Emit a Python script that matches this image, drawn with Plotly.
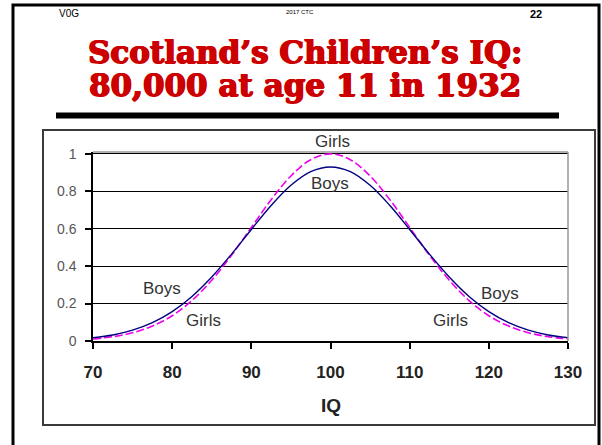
import plotly.graph_objects as go

# ---- data ----
iq = [70, 72.5, 75, 77.5, 80, 82.5, 85, 87.5, 90, 92.5, 95, 97.5, 100,
      102.5, 105, 107.5, 110, 112.5, 115, 117.5, 120, 122.5, 125, 127.5, 130]
boys = [0.018, 0.032, 0.058, 0.098, 0.157, 0.238, 0.342, 0.464, 0.596, 0.724, 0.832, 0.905, 0.93,
        0.905, 0.832, 0.724, 0.596, 0.464, 0.342, 0.238, 0.157, 0.098, 0.058, 0.032, 0.018]
girls = [0.011, 0.023, 0.044, 0.080, 0.135, 0.216, 0.325, 0.458, 0.607, 0.755, 0.882, 0.969, 1.0,
         0.969, 0.882, 0.755, 0.607, 0.458, 0.325, 0.216, 0.135, 0.080, 0.044, 0.023, 0.011]

x_ticks = [70, 80, 90, 100, 110, 120, 130]
y_ticks = [0, 0.2, 0.4, 0.6, 0.8, 1]
y_tick_text = ["0", "0.2", "0.4", "0.6", "0.8", "1"]

title_line1 = "Scotland’s Children’s IQ:"
title_line2 = "80,000 at age 11 in 1932"
x_title = "IQ"

# curve labels: (text, IQ, value)
curve_labels = [
    ("Girls", 100.3, 1.064),
    ("Boys", 99.9, 0.84),
    ("Boys", 78.7, 0.283),
    ("Girls", 83.9, 0.112),
    ("Boys", 121.4, 0.252),
    ("Girls", 115.2, 0.108),
]

# ---- layout geometry ----
W, H = 602, 445
ML, MR, MT, MB = 93, 34, 152, 104
PW = W - ML - MR
PH = H - MT - MB
Y_TOP = 1.01


def xp(px):
    return (px - ML) / PW


def yp(py):
    return (H - MB - py) / PH


SANS = "Liberation Sans, Arial, sans-serif"
RED = "#CC0000"

fig = go.Figure()
fig.add_trace(go.Scatter(x=iq, y=girls, mode="lines", line_shape="spline",
                         line=dict(color="#EE00EE", width=1.6, dash="8px,3px"),
                         showlegend=False, hoverinfo="skip"))
fig.add_trace(go.Scatter(x=iq, y=boys, mode="lines", line_shape="spline",
                         line=dict(color="#000080", width=1.4),
                         showlegend=False, hoverinfo="skip"))

fig.update_layout(
    width=W, height=H,
    margin=dict(l=ML, r=MR, t=MT, b=MB, pad=0),
    paper_bgcolor="white", plot_bgcolor="white",
    xaxis=dict(range=[70, 130], tickvals=x_ticks, showgrid=False, zeroline=False,
               showline=True, linecolor="black", linewidth=1.5,
               ticks="outside", ticklen=6, tickwidth=1.5, tickcolor="black",
               ticklabelstandoff=9,
               tickfont=dict(family=SANS, size=17, color="#222222", weight="bold")),
    yaxis=dict(range=[0, Y_TOP], tickvals=y_ticks, ticktext=y_tick_text,
               showgrid=True, gridcolor="black", gridwidth=1.2, zeroline=False,
               showline=True, linecolor="black", linewidth=1.5,
               ticks="outside", ticklen=6, tickwidth=1.5, tickcolor="black",
               ticklabelstandoff=6,
               tickfont=dict(family=SANS, size=14, color="#555555")),
)

shapes = [
    # plot area top & right border (gray)
    dict(type="line", xref="paper", yref="paper", x0=0, x1=1, y0=1, y1=1,
         line=dict(color="#999999", width=1.5)),
    dict(type="line", xref="paper", yref="paper", x0=1, x1=1, y0=0, y1=1,
         line=dict(color="#999999", width=1.5)),
    # chart box
    dict(type="rect", xref="paper", yref="paper", x0=xp(43), x1=xp(595), y0=yp(425), y1=yp(130),
         line=dict(color="#3a3a3a", width=2)),
    # slide border
    dict(type="rect", xref="paper", yref="paper", x0=xp(13), x1=xp(599), y0=yp(470), y1=yp(5),
         line=dict(color="black", width=3)),
    # thick separator bar
    dict(type="rect", xref="paper", yref="paper", x0=xp(56), x1=xp(559), y0=yp(118.5), y1=yp(112.5),
         line=dict(width=0), fillcolor="black"),
]
fig.update_layout(shapes=shapes)


def text_ann(text, x, y, font, xref="paper", yref="paper"):
    return dict(text=text, xref=xref, yref=yref, x=x, y=y, showarrow=False,
                xanchor="center", yanchor="middle", font=font)


title_font = dict(family="DejaVu Serif, serif", size=31, color=RED,
                  shadow="0.8px 0 0 " + RED + ", -0.8px 0 0 " + RED + ", 0 0.5px 0 " + RED)

ann = [
    text_ann("V0G", xp(69), yp(13), dict(family=SANS, size=10, color="black")),
    text_ann("2017 CTC", xp(300), yp(12), dict(family=SANS, size=6, color="black")),
    text_ann("<b>22</b>", xp(536), yp(14), dict(family=SANS, size=11, color="black")),
    text_ann("<b>" + title_line1 + "</b>", xp(305), yp(52), title_font),
    text_ann("<b>" + title_line2 + "</b>", xp(305), yp(85), title_font),
    text_ann("<b>" + x_title + "</b>", xp(331), yp(405), dict(family=SANS, size=19, color="#222222")),
]
for t, x, y in curve_labels:
    f = dict(family=SANS, size=17, color="#333333")
    if y > Y_TOP:
        ann.append(text_ann(t, x, y / Y_TOP, f, xref="x", yref="paper"))
    else:
        ann.append(text_ann(t, x, y, f, xref="x", yref="y"))
fig.update_layout(annotations=ann)

fig.write_html("out.html", config={"displayModeBar": False},
               post_script="document.body.style.margin='0';")
